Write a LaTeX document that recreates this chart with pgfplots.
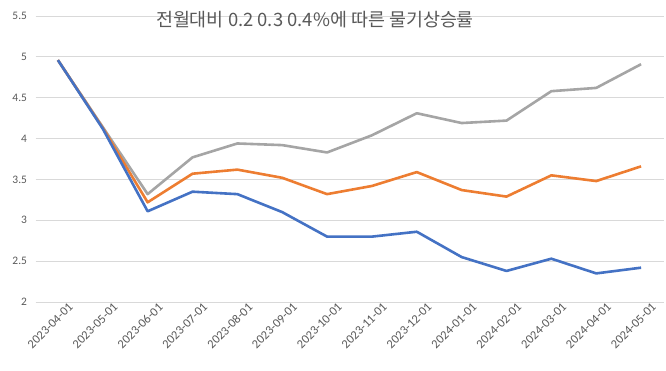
\documentclass[border=0pt]{standalone}
\usepackage{fontspec}
\setmainfont{Carlito}
\newfontfamily\kr{Noto Sans CJK KR}
\usepackage{pgfplots}
\usepackage{pgfplotstable}
\pgfplotsset{compat=1.18}
\definecolor{cblue}{HTML}{4472C4}
\definecolor{corange}{HTML}{ED7D31}
\definecolor{cgray}{HTML}{A5A5A5}
\definecolor{gridc}{HTML}{D9D9D9}
\definecolor{txt}{HTML}{595959}
\pgfplotstableread{
x a b c
0 4.96 4.96 4.96
1 4.12 4.13 4.14
2 3.11 3.22 3.32
3 3.35 3.57 3.77
4 3.32 3.62 3.94
5 3.10 3.52 3.92
6 2.80 3.32 3.83
7 2.80 3.42 4.04
8 2.86 3.59 4.31
9 2.55 3.37 4.19
10 2.38 3.29 4.22
11 2.53 3.55 4.58
12 2.35 3.48 4.62
13 2.42 3.66 4.91
}\datatable
\begin{document}
\begin{tikzpicture}[x=1bp,y=1bp]
\useasboundingbox (0,0) rectangle (666,370);
\begin{axis}[
  at={(35.5bp,68bp)}, anchor=south west, scale only axis,
  width=628bp, height=286bp,
  xmin=-0.5, xmax=13.5, ymin=2, ymax=5.5,
  ytick={2,2.5,3,3.5,4,4.5,5,5.5},
  xtick={0,...,13},
  xticklabels={2023-04-01,2023-05-01,2023-06-01,2023-07-01,2023-08-01,2023-09-01,2023-10-01,2023-11-01,2023-12-01,2024-01-01,2024-02-01,2024-03-01,2024-04-01,2024-05-01},
  /pgf/number format/assume math mode=true,
  x tick label style={rotate=45, anchor=north east, font=\fontsize{12.5}{14}\selectfont, text=txt, inner sep=0bp, xshift=7bp, yshift=-7bp},
  y tick label style={font=\fontsize{11.5}{13}\selectfont, text=txt, xshift=-5bp},
  ymajorgrids, grid style={gridc, line width=0.9bp},
  axis line style={draw=none},
  major tick length=0pt,
  clip=false,
]
\draw[gridc, line width=0.9bp] (axis cs:-0.5,2) -- (axis cs:13.5,2);
\addplot[cgray, line width=2.6bp, line join=round] table[x=x,y=c]{\datatable};
\addplot[corange, line width=2.6bp, line join=round] table[x=x,y=b]{\datatable};
\addplot[cblue, line width=2.6bp, line join=round] table[x=x,y=a]{\datatable};
\end{axis}
\node[text=txt, font=\kr\fontsize{18.5}{20}\selectfont] at (315,350) {전월대비 0.2 0.3 0.4\%에 따른 물기상승률};
\end{tikzpicture}
\end{document}
